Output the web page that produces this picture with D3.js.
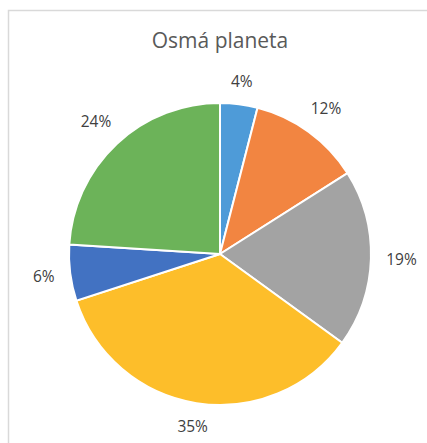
<!DOCTYPE html>
<html><head><meta charset="utf-8">
<script src="https://cdn.jsdelivr.net/npm/d3@7"></script>
<style>body{margin:0;background:#fff}svg{display:block}</style>
</head><body><svg id="c" width="427" height="443"></svg>
<script>
const labels = ["4%","12%","19%","35%","6%","24%"];
const values = [4,12,19,35,6,24];
const colors = ["#4E9BD8","#F28541","#A3A3A3","#FDBE2A","#4272C2","#6CB359"];
const title = "Osmá planeta";

const svg = d3.select("#c");
svg.append("rect").attr("x",8.5).attr("y",10.5).attr("width",430).attr("height",440)
  .attr("fill","#fff").attr("stroke","#d9d9d9").attr("stroke-width",1.5);
svg.append("text").attr("x",220).attr("y",48).attr("text-anchor","middle")
  .attr("font-family","'Open Sans', 'Noto Sans', sans-serif").attr("font-size",21)
  .attr("fill","#595959").text(title);

const cx=220, cy=254, R=151, gap=15;
const g = svg.append("g").attr("transform",`translate(${cx},${cy})`);
const pie = d3.pie().sort(null).value(d=>d);
const arcs = pie(values);
const arc = d3.arc().innerRadius(0).outerRadius(R);
g.selectAll("path").data(arcs).join("path").attr("d",arc)
  .attr("fill",(d,i)=>colors[i]).attr("stroke","#fff").attr("stroke-width",2);
const t = g.selectAll("text.l").data(arcs).join("text").attr("class","l")
  .attr("text-anchor","middle").attr("dy","0.36em")
  .attr("font-family","'Open Sans', 'Noto Sans', sans-serif").attr("font-size",15.5)
  .attr("fill","#404040").text((d,i)=>labels[i]);
t.each(function(d){
  const bb=this.getBBox();
  const a=(d.startAngle+d.endAngle)/2;
  const s=Math.sin(a), c=Math.cos(a);
  const r=R+gap+Math.abs(bb.width/2*s)+Math.abs(6.5*c);
  d3.select(this).attr("transform",`translate(${r*s},${-r*c})`);
});
</script></body></html>
